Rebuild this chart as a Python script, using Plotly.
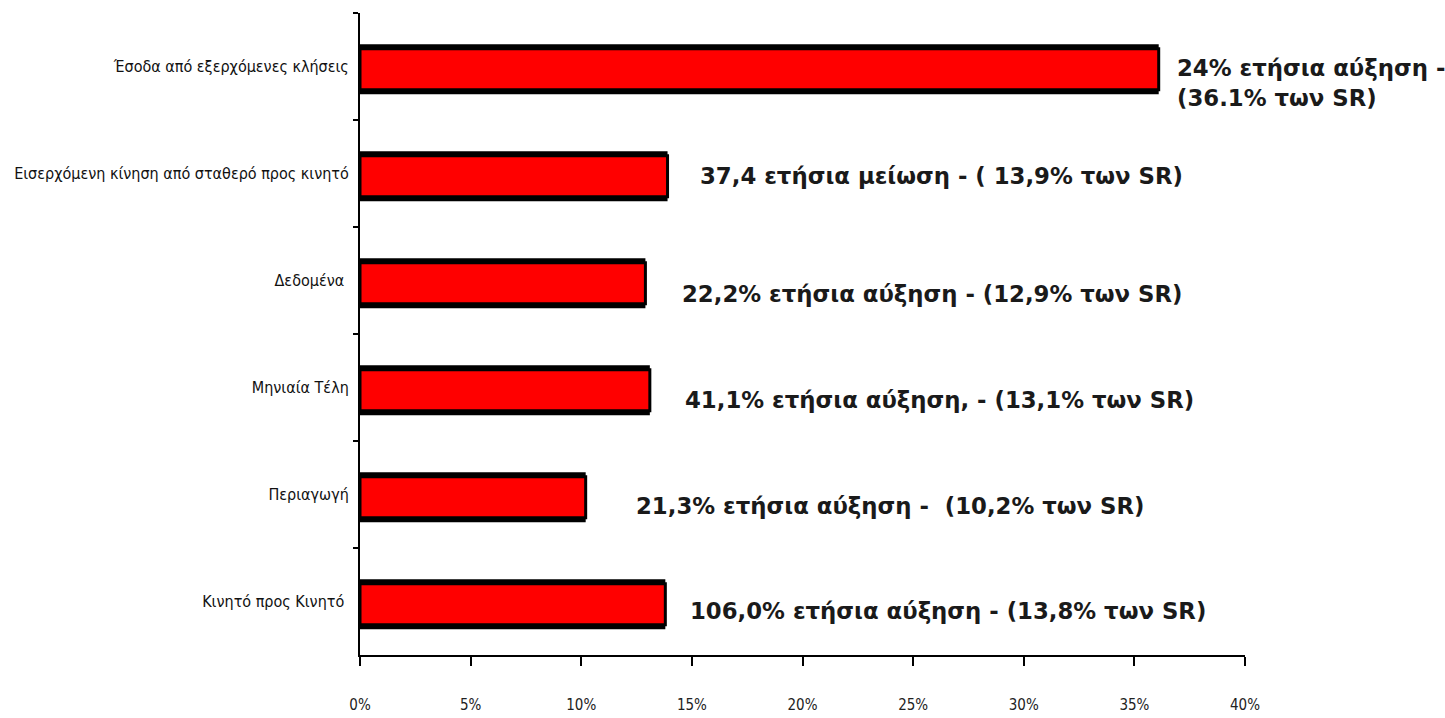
import plotly.graph_objects as go

# Revenue categories (top to bottom) and their share of service revenues (%)
categories = [
    "Έσοδα από εξερχόμενες κλήσεις",
    "Εισερχόμενη κίνηση από σταθερό προς κινητό",
    "Δεδομένα ",
    "Μηνιαία Τέλη",
    "Περιαγωγή",
    "Κινητό προς Κινητό ",
]
share_pct = [36.1, 13.9, 12.9, 13.1, 10.2, 13.8]
bar_labels = [
    "24% ετήσια αύξηση -<br>(36.1% των SR)",
    "37,4 ετήσια μείωση - ( 13,9% των SR)",
    "22,2% ετήσια αύξηση - (12,9% των SR)",
    "41,1% ετήσια αύξηση, - (13,1% των SR)",
    "21,3% ετήσια αύξηση -  (10,2% των SR)",
    "106,0% ετήσια αύξηση - (13,8% των SR)",
]
x_ticks = [0, 5, 10, 15, 20, 25, 30, 35, 40]
x_tick_text = ["0%", "5%", "10%", "15%", "20%", "25%", "30%", "35%", "40%"]

# label placement (pixels) relative to the bar end / bar centre
label_dx = [16, 30, 35, 33, 48, 23]
label_dy = [-16, -2, -13, -12, -11, -9]

narrow = "Liberation Sans Narrow, Arial Narrow, DejaVu Sans Condensed, sans-serif"
bold = "Verdana, DejaVu Sans, sans-serif"

BACK_W, FRONT_W, DROP = 0.467, 0.383, 0.025

fig = go.Figure()
# black backing bar gives the heavy top/bottom edge
fig.add_trace(go.Bar(
    x=share_pct, y=categories, orientation="h",
    width=BACK_W, offset=-BACK_W / 2 + DROP,
    marker=dict(color="#000000", line=dict(width=0)),
    hoverinfo="skip",
))
# red bar with a thin black outline on top
fig.add_trace(go.Bar(
    x=share_pct, y=categories, orientation="h",
    width=FRONT_W, offset=-FRONT_W / 2 + DROP,
    marker=dict(color="#FF0000", line=dict(color="#000000", width=3)),
    hoverinfo="x+y",
))

for cat, v, txt, dx, dy in zip(categories, share_pct, bar_labels, label_dx, label_dy):
    fig.add_annotation(
        x=v, y=cat, text=f"<b>{txt}</b>", showarrow=False,
        xanchor="left", yanchor="middle", align="left",
        xshift=dx, yshift=dy,
        font=dict(family=bold, size=22.8, color="#1a1a1a"),
    )

fig.update_layout(
    width=1445, height=718,
    margin=dict(l=360, r=200, t=13, b=63),
    paper_bgcolor="white", plot_bgcolor="white",
    barmode="overlay",
    showlegend=False,
    xaxis=dict(
        range=[0, 40], tickvals=x_ticks, ticktext=x_tick_text,
        showgrid=False, zeroline=False, automargin=False,
        showline=True, linecolor="#000000", linewidth=2,
        ticks="outside", ticklen=9, tickwidth=2, tickcolor="#000000",
        ticklabelstandoff=26,
        tickfont=dict(family=narrow, size=15, color="#222222"),
        fixedrange=True,
    ),
    yaxis=dict(
        autorange="reversed", type="category", automargin=False,
        showgrid=False, zeroline=False,
        showline=True, linecolor="#000000", linewidth=2,
        ticks="outside", tickson="boundaries", ticklen=5, tickwidth=2,
        tickcolor="#000000", ticklabelstandoff=6,
        tickfont=dict(family=narrow, size=16, color="#111111"),
        fixedrange=True,
    ),
)

fig.write_html("out.html")
